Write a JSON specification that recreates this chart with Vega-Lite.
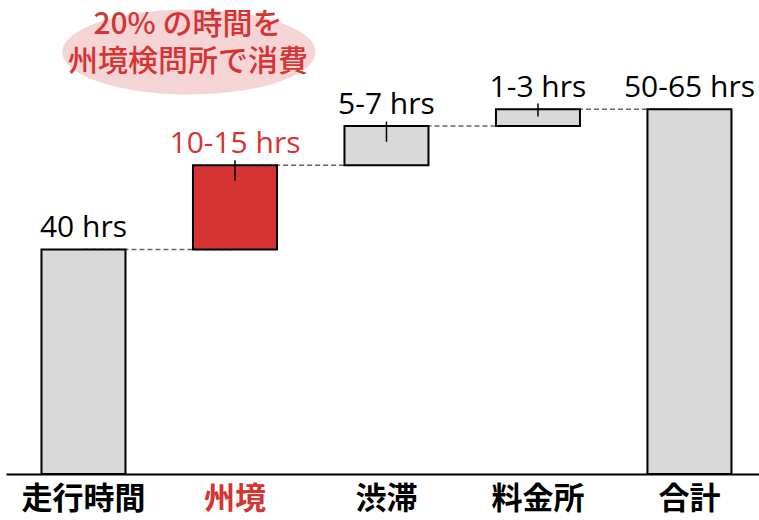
{
  "$schema": "https://vega.github.io/schema/vega-lite/v6.json",
  "width": 753,
  "height": 474,
  "autosize": {"type": "none"},
  "padding": {"left": 6, "right": 0, "top": 0, "bottom": 46},
  "background": "white",
  "config": {"view": {"stroke": null}},
  "datasets": {
    "bars": [
      {"cat": "走行時間", "start": 0, "end": 40, "label": "40 hrs", "lo": null, "hi": null},
      {"cat": "州境", "start": 40, "end": 55, "label": "10-15 hrs", "lo": 52.3, "hi": 55.9},
      {"cat": "渋滞", "start": 55, "end": 62, "label": "5-7 hrs", "lo": 59.2, "hi": 62.8},
      {"cat": "料金所", "start": 62, "end": 65, "label": "1-3 hrs", "lo": 63.7, "hi": 66.0},
      {"cat": "合計", "start": 0, "end": 65, "label": "50-65 hrs", "lo": null, "hi": null}
    ],
    "links": [
      {"from": "走行時間", "to": "州境", "level": 40},
      {"from": "州境", "to": "渋滞", "level": 55},
      {"from": "渋滞", "to": "料金所", "level": 62},
      {"from": "料金所", "to": "合計", "level": 65}
    ],
    "bubble": [
      {"cat": "州境", "v": 75.2}
    ],
    "note": [
      {"cat": "州境", "v": 80.0, "text": "20% の時間を"},
      {"cat": "州境", "v": 73.4, "text": "州境検問所で消費"}
    ]
  },
  "layer": [
    {
      "data": {"name": "bubble"},
      "mark": {"type": "point", "shape": "M -1.364 0 A 1 0.336 0 1 0 0.636 0 A 1 0.336 0 1 0 -1.364 0 Z", "size": 64009, "filled": true, "fill": "#f4d4d4", "opacity": 1, "strokeWidth": 0},
      "encoding": {
        "x": {"field": "cat", "type": "nominal"},
        "y": {"field": "v", "type": "quantitative"}
      }
    },
    {
      "data": {"name": "note"},
      "mark": {"type": "text", "font": "Noto Sans CJK JP", "fontSize": 30, "fontWeight": 500, "color": "#d63333", "dx": -47, "baseline": "middle"},
      "encoding": {
        "x": {"field": "cat", "type": "nominal"},
        "y": {"field": "v", "type": "quantitative"},
        "text": {"field": "text"}
      }
    },
    {
      "data": {"name": "links"},
      "mark": {"type": "rule", "color": "#666666", "strokeWidth": 1.5, "strokeDash": [5, 3]},
      "encoding": {
        "x": {"field": "from", "type": "nominal"},
        "x2": {"field": "to"},
        "y": {"field": "level", "type": "quantitative"}
      }
    },
    {
      "data": {"name": "bars"},
      "mark": {"type": "bar", "stroke": "black", "strokeWidth": 2},
      "encoding": {
        "x": {"field": "cat", "type": "nominal"},
        "y": {"field": "start", "type": "quantitative"},
        "y2": {"field": "end"},
        "fill": {"condition": {"test": "datum.cat === '州境'", "value": "#d63333"}, "value": "#d9d9d9"}
      }
    },
    {
      "data": {"name": "bars"},
      "transform": [{"filter": "datum.lo != null"}],
      "mark": {"type": "rule", "color": "black", "strokeWidth": 1.5},
      "encoding": {
        "x": {"field": "cat", "type": "nominal"},
        "y": {"field": "lo", "type": "quantitative"},
        "y2": {"field": "hi"}
      }
    },
    {
      "data": {"name": "bars"},
      "mark": {"type": "text", "font": "Open Sans", "fontSize": 30, "baseline": "alphabetic", "dy": -12},
      "encoding": {
        "x": {"field": "cat", "type": "nominal"},
        "y": {"field": "end", "type": "quantitative"},
        "text": {"field": "label"},
        "color": {"condition": {"test": "datum.cat === '州境'", "value": "#d63333"}, "value": "black"}
      }
    }
  ],
  "encoding": {
    "x": {
      "field": "cat",
      "type": "nominal",
      "sort": ["走行時間", "州境", "渋滞", "料金所", "合計"],
      "scale": {"domain": ["走行時間", "州境", "渋滞", "料金所", "合計"], "paddingInner": 0.4455, "paddingOuter": 0.208, "align": 0.563},
      "axis": {
        "title": null,
        "labelAngle": 0,
        "ticks": false,
        "domainColor": "black",
        "domainWidth": 2,
        "labelFont": "Noto Sans CJK JP",
        "labelFontSize": 31,
        "labelFontWeight": "bold",
        "labelPadding": 10,
        "labelColor": {"expr": "datum.value === '州境' ? '#d63333' : 'black'"}
      }
    },
    "y": {
      "type": "quantitative",
      "scale": {"domain": [0, 84.45], "nice": false, "zero": true},
      "axis": null
    }
  }
}
